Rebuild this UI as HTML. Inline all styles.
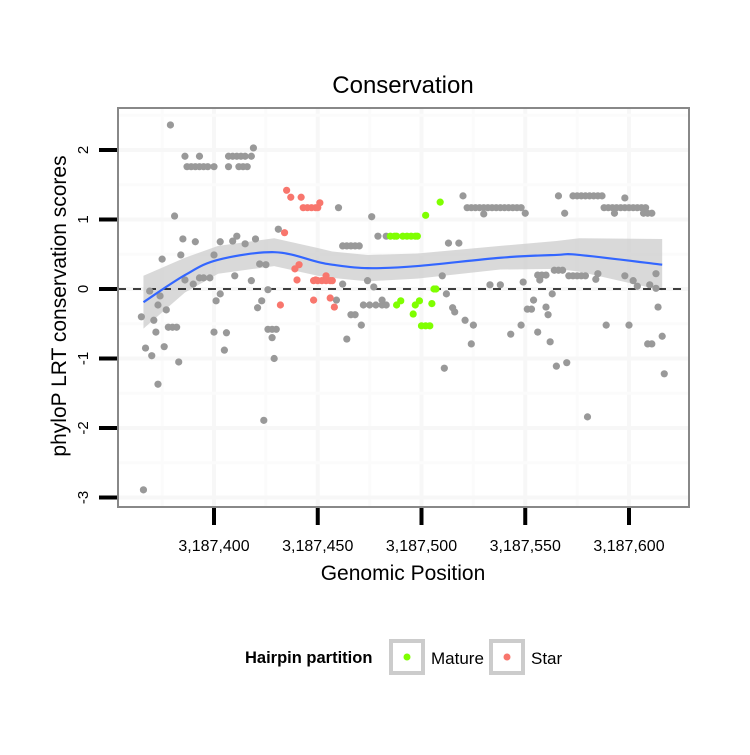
<!DOCTYPE html>
<html><head><meta charset="utf-8"><style>
body{margin:0;background:#fff;}
svg text{font-family:"Liberation Sans",sans-serif;}
</style></head><body>
<svg id="chart" width="750" height="750" xmlns="http://www.w3.org/2000/svg">
<rect width="750" height="750" fill="#fff"/>
<text x="403" y="93" font-size="24" text-anchor="middle">Conservation</text>
<g id="grid"></g>
<g id="band"></g>
<line id="zero" stroke="#000" stroke-width="1.6" stroke-dasharray="8,7"/>
<g id="pts"></g>
<g id="smooth"></g>
<rect x="118" y="108" width="571" height="399" fill="none" stroke="#888" stroke-width="2"/>
<g id="axes"></g>
<text x="403" y="580" font-size="21" text-anchor="middle">Genomic Position</text>
<text transform="translate(66,306) rotate(-90)" font-size="21" text-anchor="middle">phyloP LRT conservation scores</text>
<g>
<text x="245" y="663" font-size="16.5" font-weight="bold">Hairpin partition</text>
<rect x="391" y="641" width="32" height="32" fill="#fff" stroke="#ccc" stroke-width="4"/>
<circle cx="407" cy="657" r="3.5" fill="#7fff00"/>
<text x="431" y="664" font-size="17">Mature</text>
<rect x="491" y="641" width="32" height="32" fill="#fff" stroke="#ccc" stroke-width="4"/>
<circle cx="507" cy="657" r="3.5" fill="#f8766d"/>
<text x="531" y="664" font-size="17">Star</text>
</g>
</svg>
<script>
const xTicks=[3187400,3187450,3187500,3187550,3187600];
const xTickLabels=["3,187,400","3,187,450","3,187,500","3,187,550","3,187,600"];
const yTicks=[-3,-2,-1,0,1,2];
const grayPos=[3187379,3187386,3187393,3187407,3187409,3187411,3187413,3187415,3187418,3187419,3187387,3187389,3187391,3187393,3187395,3187397,3187400,3187407,3187412,3187414,3187416,3187381,3187385,3187391,3187384,3187375,3187400,3187403,3187409,3187411,3187415,3187420,3187431,3187422,3187425,3187386,3187390,3187393,3187395,3187398,3187410,3187418,3187426,3187369,3187374,3187373,3187377,3187403,3187401,3187423,3187421,3187365,3187371,3187378,3187380,3187382,3187372,3187400,3187406,3187426,3187428,3187430,3187428,3187367,3187370,3187376,3187405,3187383,3187429,3187373,3187424,3187366,
3187460,3187476,3187479,3187483,3187520,3187522,3187524,3187526,3187528,3187530,3187532,3187534,3187536,3187538,3187530,3187462,3187464,3187466,3187468,3187470,3187513,3187518,3187462,3187474,3187477,3187510,3187512,3187459,3187466,3187468,3187472,3187475,3187478,3187481,3187483,3187481,3187515,3187516,3187521,3187525,3187471,3187464,3187524,3187511,3187533,
3187540,3187542,3187544,3187546,3187548,3187550,3187566,3187569,3187573,3187575,3187577,3187579,3187581,3187583,3187585,3187587,3187588,3187590,3187592,3187594,3187596,3187598,3187600,3187602,3187604,3187606,3187608,3187593,3187598,3187607,3187609,3187611,3187538,3187549,3187556,3187558,3187560,3187557,3187564,3187566,3187568,3187571,3187573,3187575,3187577,3187579,3187584,3187585,3187598,3187602,3187604,3187610,3187613,3187613,3187563,3187554,3187551,3187553,3187560,3187561,3187614,3187548,3187543,3187556,3187562,3187589,3187600,3187609,3187611,3187616,3187565,3187570,3187617,3187580];
const grayScore=[2.36,1.91,1.91,1.91,1.91,1.91,1.91,1.91,1.91,2.03,1.76,1.76,1.76,1.76,1.76,1.76,1.76,1.76,1.76,1.76,1.76,1.05,0.72,0.68,0.49,0.43,0.49,0.68,0.69,0.76,0.65,0.72,0.86,0.36,0.35,0.13,0.07,0.16,0.16,0.16,0.19,0.12,-0.01,-0.03,-0.1,-0.23,-0.3,-0.07,-0.17,-0.17,-0.27,-0.4,-0.45,-0.55,-0.55,-0.55,-0.62,-0.62,-0.63,-0.58,-0.58,-0.58,-0.7,-0.85,-0.96,-0.83,-0.88,-1.05,-1.0,-1.37,-1.89,-2.89,
1.17,1.04,0.76,0.76,1.34,1.17,1.17,1.17,1.17,1.17,1.17,1.17,1.17,1.17,1.08,0.62,0.62,0.62,0.62,0.62,0.66,0.66,0.07,0.12,0.03,0.19,-0.07,-0.16,-0.37,-0.37,-0.23,-0.23,-0.23,-0.23,-0.23,-0.16,-0.27,-0.33,-0.45,-0.52,-0.52,-0.72,-0.79,-1.14,0.06,
1.17,1.17,1.17,1.17,1.17,1.09,1.34,1.09,1.34,1.34,1.34,1.34,1.34,1.34,1.34,1.34,1.17,1.17,1.17,1.17,1.17,1.17,1.17,1.17,1.17,1.17,1.17,1.09,1.31,1.09,1.09,1.09,0.06,0.1,0.2,0.2,0.2,0.13,0.27,0.27,0.27,0.19,0.19,0.19,0.19,0.19,0.14,0.22,0.19,0.12,0.04,0.06,0.01,0.22,-0.07,-0.16,-0.29,-0.29,-0.26,-0.37,-0.26,-0.52,-0.65,-0.62,-0.76,-0.52,-0.52,-0.79,-0.79,-0.68,-1.11,-1.06,-1.22,-1.84];
const starPos=[3187435,3187437,3187442,3187443,3187445,3187447,3187449,3187450,3187451,3187434,3187439,3187441,3187440,3187449,3187432,3187448,3187448,3187450,3187452,3187454,3187456,3187457,3187454,3187456,3187458];
const starScore=[1.42,1.32,1.32,1.17,1.17,1.17,1.17,1.17,1.24,0.81,0.29,0.35,0.13,0.13,-0.23,-0.16,0.12,0.12,0.12,0.12,0.12,0.12,0.19,-0.13,-0.26];
const maturePos=[3187485,3187487,3187488,3187491,3187493,3187495,3187497,3187498,3187502,3187509,3187506,3187507,3187490,3187488,3187499,3187497,3187505,3187496,3187500,3187502,3187504];
const matureScore=[0.76,0.76,0.76,0.76,0.76,0.76,0.76,0.76,1.06,1.25,0,0,-0.17,-0.23,-0.17,-0.23,-0.21,-0.36,-0.53,-0.53,-0.53];
const fitPos=[3187366,3187386,3187402,3187429,3187450,3187457,3187474,3187498,3187538,3187565,3187576,3187616];
const fitVal=[-0.19,0.2,0.42,0.53,0.39,0.35,0.3,0.33,0.45,0.49,0.49,0.35];
const fitSe=[0.38,0.25,0.2,0.2,0.2,0.19,0.19,0.18,0.17,0.2,0.24,0.37];

const NS="http://www.w3.org/2000/svg";
const X0=118,X1=689,Y0=108,Y1=507;
const xs=v=>214+(v-3187400)*2.075;
const ys=v=>289-v*69.5;
function mk(tag,attrs,parent){const e=document.createElementNS(NS,tag);for(const k in attrs)e.setAttribute(k,attrs[k]);parent.appendChild(e);return e;}
const grid=document.getElementById('grid');
for(let i=0;i<xTicks.length;i++){
 const gl=mk('line',{x1:xs(xTicks[i]),x2:xs(xTicks[i]),y1:Y0,y2:Y1,stroke:'#f7f7f7','stroke-width':4},grid);
 
 
}
[3187375,3187425,3187475,3187525,3187575].forEach(v=>{const g=mk('line',{x1:xs(v),x2:xs(v),y1:Y0,y2:Y1,stroke:'#fbfbfb','stroke-width':3},grid);});
yTicks.forEach(v=>{const g=mk('line',{x1:X0,x2:X1,y1:ys(v),y2:ys(v),stroke:'#f7f7f7','stroke-width':4},grid);});
[-2.5,-1.5,-0.5,0.5,1.5,2.5].forEach(v=>{const g=mk('line',{x1:X0,x2:X1,y1:ys(v),y2:ys(v),stroke:'#fbfbfb','stroke-width':3},grid);});
const z=document.getElementById('zero');z.setAttribute('x1',X0);z.setAttribute('x2',X1);z.setAttribute('y1',ys(0));z.setAttribute('y2',ys(0));
let up=fitPos.map((p,i)=>xs(p)+','+ys(fitVal[i]+fitSe[i]));
let lo=fitPos.map((p,i)=>xs(p)+','+ys(fitVal[i]-fitSe[i])).reverse();
const band=mk('polygon',{points:up.concat(lo).join(' '),fill:'#cccccc','fill-opacity':0.75},document.getElementById('band'));


function path(px,py){let d='M'+px[0]+','+py[0];for(let i=0;i<px.length-1;i++){const p0=i?i-1:i,p3=i+2<px.length?i+2:i+1;const c1x=px[i]+(px[i+1]-px[p0])/6,c1y=py[i]+(py[i+1]-py[p0])/6,c2x=px[i+1]-(px[p3]-px[i])/6,c2y=py[i+1]-(py[p3]-py[i])/6;d+=' C'+c1x+','+c1y+' '+c2x+','+c2y+' '+px[i+1]+','+py[i+1];}return d;}
const ln=mk('path',{d:path(fitPos.map(xs),fitVal.map(ys)),fill:'none',stroke:'#3366ff','stroke-width':2.2},document.getElementById('smooth'));


const pts=document.getElementById('pts');
function dots(P,S,col,name){for(let i=0;i<P.length;i++){const c=mk('circle',{cx:xs(P[i]),cy:ys(S[i]),r:3.6,fill:col},pts);}}
dots(grayPos,grayScore,'#999999','point-other');
dots(starPos,starScore,'#f8766d','point-star');
dots(maturePos,matureScore,'#7fff00','point-mature');
const ax=document.getElementById('axes');
xTicks.forEach((v,i)=>{
 const t=mk('line',{x1:xs(v),x2:xs(v),y1:508,y2:525,stroke:'#000','stroke-width':4},ax);
 
 
 const l=mk('text',{x:xs(v),y:551,'font-size':16,'text-anchor':'middle'},ax);l.textContent=xTickLabels[i];
 
 
});
yTicks.forEach(v=>{
 const t=mk('line',{x1:99,x2:117,y1:ys(v),y2:ys(v),stroke:'#000','stroke-width':4},ax);
 
 
 const l=mk('text',{transform:'translate(88,'+ys(v)+') rotate(-90)','font-size':15,'text-anchor':'middle'},ax);l.textContent=String(v);
 
 
});
</script>
</body></html>
